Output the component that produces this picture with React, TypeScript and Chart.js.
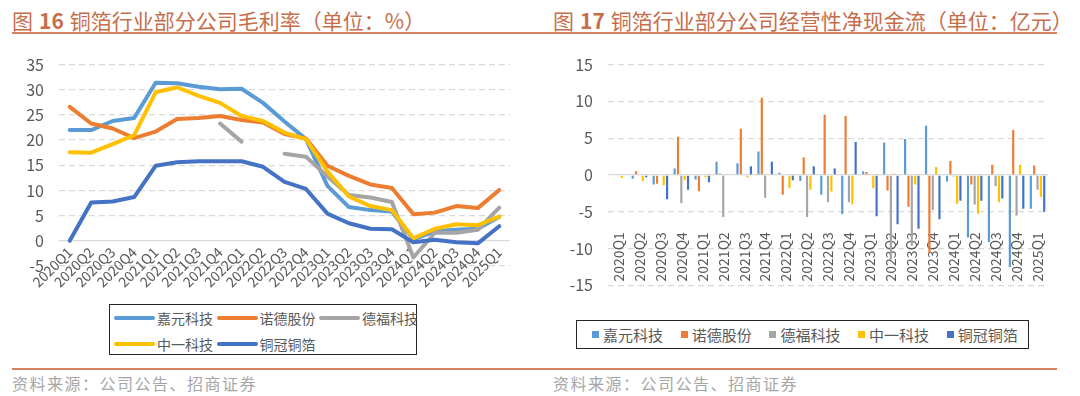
import React, { useEffect, useRef } from "react";
import { Chart, registerables } from "chart.js";

Chart.register(...registerables);

const FONT = '"Noto Sans CJK SC", "Noto Sans", sans-serif';

const quarters = [
  "2020Q1", "2020Q2", "2020Q3", "2020Q4",
  "2021Q1", "2021Q2", "2021Q3", "2021Q4",
  "2022Q1", "2022Q2", "2022Q3", "2022Q4",
  "2023Q1", "2023Q2", "2023Q3", "2023Q4",
  "2024Q1", "2024Q2", "2024Q3", "2024Q4",
  "2025Q1",
];

const companies = ["嘉元科技", "诺德股份", "德福科技", "中一科技", "铜冠铜箔"];
const colors = ["#5B9BD5", "#ED7D31", "#A5A5A5", "#FFC000", "#4472C4"];

// 毛利率 (%)
const gmJiayuan = [22.0, 22.0, 23.8, 24.4, 31.4, 31.3, 30.6, 30.1, 30.2, 27.4, 23.7, 20.2, 10.9, 6.7, 6.1, 5.8, 0.3, 1.9, 2.2, 2.4, 4.8];
const gmNuode = [26.6, 23.3, 22.3, 20.4, 21.7, 24.2, 24.4, 24.8, 24.0, 23.5, 21.2, 20.3, 14.9, 12.9, 11.2, 10.5, 5.3, 5.6, 6.9, 6.5, 10.1];
const gmDefu = [null, null, null, null, null, null, null, 23.3, 19.7, null, 17.3, 16.7, 12.8, 9.1, 8.6, 7.7, -3.3, 1.6, 1.6, 2.2, 6.6];
const gmZhongyi = [17.6, 17.5, 19.2, 21.0, 29.5, 30.5, 28.8, 27.4, 24.8, 23.8, 21.5, 20.2, 13.8, 8.8, 6.9, 6.1, 0.5, 2.4, 3.3, 3.1, 4.8];
const gmTongguan = [0, 7.6, 7.8, 8.7, 14.9, 15.6, 15.8, 15.8, 15.8, 14.7, 11.7, 10.3, 5.4, 3.5, 2.4, 2.3, -0.3, 0.2, -0.3, -0.5, 2.9];
const grossMargins = [gmJiayuan, gmNuode, gmDefu, gmZhongyi, gmTongguan];

// 经营性净现金流 (亿元)
const cfJiayuan = [0, -0.5, -1.3, 0.9, -0.6, 1.8, 1.6, 3.2, 0.3, -0.8, -2.7, -5.3, 0.5, 4.4, 4.9, 6.7, -0.9, -8.5, -9.1, -12.5, -4.6];
const cfNuode = [0, 0.5, -1.2, 5.2, -2.2, 0.2, 6.3, 10.5, -2.7, 2.4, 8.2, 8.0, 0.4, -2.1, -4.3, -10.6, 1.9, -1.3, 1.4, 6.1, 1.3];
const cfDefu = [null, null, null, -3.8, null, -5.7, null, -3.1, null, -5.7, -3.7, -3.7, null, -11.5, -9.6, -4.75, -0.2, -4.0, -1.5, -5.5, -2.0];
const cfZhongyi = [-0.4, -0.8, -1.4, -0.7, -0.3, 0, -0.3, 0, -1.8, -2.0, -2.25, -4.0, -1.8, 0.2, -1.3, 1.1, -3.9, -5.25, -3.7, 1.4, -3.0];
const cfTongguan = [0, -0.3, -3.3, -2.0, -1.0, -0.1, 1.2, 1.8, -0.7, 1.2, 0.9, 4.5, -5.6, -6.7, -7.3, -6.0, -3.5, -3.5, -3.2, -4.6, -5.0];
const cashFlows = [cfJiayuan, cfNuode, cfDefu, cfZhongyi, cfTongguan];

const marginTicks = [-5, 0, 5, 10, 15, 20, 25, 30, 35];
const cashTicks = [-15, -10, -5, 0, 5, 10, 15];

const TITLE_COLOR = "#C66E4B";
const RULE_COLOR = "#D08262";
const AXIS_TEXT = "#595959";
const GRID = "#D9D9D9";

function gridOpts() {
  return {
    grid: { color: GRID, lineWidth: 1.3, drawTicks: false },
    border: {
      display: false,
      dash: (c: any) => (c && c.tick && c.tick.value === 0 ? [] : [6, 4]),
    },
  };
}

function MarginChart() {
  const ref = useRef<HTMLCanvasElement>(null);
  useEffect(() => {
    const chart = new Chart(ref.current as HTMLCanvasElement, {
      type: "line",
      data: {
        labels: quarters,
        datasets: companies.map((name, k) => ({
          label: name,
          data: grossMargins[k],
          borderColor: colors[k],
          backgroundColor: colors[k],
          borderWidth: 4,
          pointRadius: 0,
          tension: 0,
          spanGaps: false,
          borderCapStyle: "round",
          borderJoinStyle: "round",
          order: companies.length - k,
        })),
      } as any,
      options: {
        responsive: false,
        animation: false,
        layout: { padding: { left: 8, right: 30, top: 18, bottom: 34 } },
        plugins: { legend: { display: false }, tooltip: { enabled: false } },
        scales: {
          x: {
            position: { y: 0 },
            offset: true,
            grid: { display: false, drawTicks: false },
            border: { display: false },
            ticks: {
              autoSkip: false,
              minRotation: 45,
              maxRotation: 45,
              padding: 3,
              color: AXIS_TEXT,
              font: { size: 14, family: FONT },
            },
            afterFit: (s: any) => {
              s.paddingLeft = 0;
              s.paddingRight = 0;
            },
          },
          y: {
            min: marginTicks[0],
            max: marginTicks[marginTicks.length - 1],
            ticks: {
              stepSize: marginTicks[1] - marginTicks[0],
              padding: 15,
              color: AXIS_TEXT,
              font: { size: 16, family: FONT },
            },
            ...gridOpts(),
            afterFit: (s: any) => {
              s.width = 51;
            },
          },
        },
      } as any,
    });
    return () => chart.destroy();
  }, []);
  return (
    <canvas
      ref={ref}
      width={540}
      height={260}
      style={{ position: "absolute", left: 0, top: 40, width: 540, height: 260 }}
    />
  );
}

function CashChart() {
  const ref = useRef<HTMLCanvasElement>(null);
  useEffect(() => {
    const chart = new Chart(ref.current as HTMLCanvasElement, {
      type: "bar",
      data: {
        labels: quarters,
        datasets: companies.map((name, k) => ({
          label: name,
          data: cashFlows[k],
          backgroundColor: colors[k],
          borderWidth: 0,
          categoryPercentage: 0.8,
          barPercentage: 0.65,
        })),
      } as any,
      options: {
        responsive: false,
        animation: false,
        layout: { padding: { left: 0, right: 32, top: 18, bottom: 12 } },
        plugins: { legend: { display: false }, tooltip: { enabled: false } },
        scales: {
          x: {
            position: { y: -7.5 },
            grid: { display: false, drawTicks: false },
            border: { display: false },
            ticks: {
              autoSkip: false,
              minRotation: 90,
              maxRotation: 90,
              padding: 2,
              color: AXIS_TEXT,
              font: { size: 14, family: FONT },
            },
            afterFit: (s: any) => {
              s.paddingLeft = 0;
              s.paddingRight = 0;
            },
          },
          y: {
            min: cashTicks[0],
            max: cashTicks[cashTicks.length - 1],
            ticks: {
              stepSize: cashTicks[1] - cashTicks[0],
              padding: 15,
              color: AXIS_TEXT,
              font: { size: 16, family: FONT },
            },
            ...gridOpts(),
            afterFit: (s: any) => {
              s.width = 68;
            },
          },
        },
      } as any,
    });
    return () => chart.destroy();
  }, []);
  return (
    <canvas
      ref={ref}
      width={540}
      height={270}
      style={{ position: "absolute", left: 540, top: 40, width: 540, height: 270 }}
    />
  );
}

const abs = { position: "absolute" as const };

function Title(props: { left: number; num: string; text: string; unit: string }) {
  return (
    <div
      style={{
        ...abs,
        left: props.left,
        top: 8,
        fontSize: 21,
        lineHeight: "24px",
        color: TITLE_COLOR,
        whiteSpace: "nowrap",
      }}
    >
      <span>图</span>
      <b style={{ marginLeft: 6, marginRight: 6 }}>{props.num}</b>
      <span>{props.text}</span>
      <span>（单位：{props.unit}）</span>
    </div>
  );
}

export default function App() {
  return (
    <div
      style={{
        position: "absolute",
        left: 0,
        top: 0,
        width: 1080,
        height: 396,
        background: "#fff",
        overflow: "hidden",
        fontFamily: FONT,
      }}
    >
      <Title left={12} num="16" text="铜箔行业部分公司毛利率" unit="%" />
      <Title left={553} num="17" text="铜箔行业部分公司经营性净现金流" unit="亿元" />
      <div style={{ ...abs, left: 12, top: 32, width: 1045, height: 2, background: RULE_COLOR }} />

      <MarginChart />
      <CashChart />

      {/* left legend */}
      <div style={{ ...abs, left: 109, top: 304, width: 308, height: 51, border: "1.5px solid #262626", boxSizing: "border-box" }} />
      {companies.map((name, k) => {
        const col = k % 3;
        const row = Math.floor(k / 3);
        const x = 114 + 102.5 * col;
        const y = row === 0 ? 318 : 344;
        return (
          <React.Fragment key={"l" + k}>
            <div style={{ ...abs, left: x, top: y - 2, width: 41, height: 4, borderRadius: 2, background: colors[k] }} />
            <div style={{ ...abs, left: x + 43, top: y - 10, fontSize: 14, lineHeight: "20px", color: AXIS_TEXT, whiteSpace: "nowrap" }}>{name}</div>
          </React.Fragment>
        );
      })}

      {/* right legend */}
      <div style={{ ...abs, left: 576, top: 320, width: 453, height: 29, border: "1.5px solid #262626", boxSizing: "border-box" }} />
      {companies.map((name, k) => {
        const x = 592 + 88.7 * k;
        const y = 334.5;
        return (
          <React.Fragment key={"r" + k}>
            <div style={{ ...abs, left: x, top: y - 3.5, width: 7, height: 7, background: colors[k] }} />
            <div style={{ ...abs, left: x + 11, top: y - 10, fontSize: 15, lineHeight: "20px", color: AXIS_TEXT, whiteSpace: "nowrap" }}>{name}</div>
          </React.Fragment>
        );
      })}

      <div style={{ ...abs, left: 12, top: 368, width: 1045, height: 2, background: RULE_COLOR }} />
      <div style={{ ...abs, left: 12, top: 373, fontSize: 16, lineHeight: "20px", color: "#A6A6A6", letterSpacing: 1.5, whiteSpace: "nowrap" }}>
        资料来源：公司公告、招商证券
      </div>
      <div style={{ ...abs, left: 553, top: 373, fontSize: 16, lineHeight: "20px", color: "#A6A6A6", letterSpacing: 1.5, whiteSpace: "nowrap" }}>
        资料来源：公司公告、招商证券
      </div>
    </div>
  );
}
